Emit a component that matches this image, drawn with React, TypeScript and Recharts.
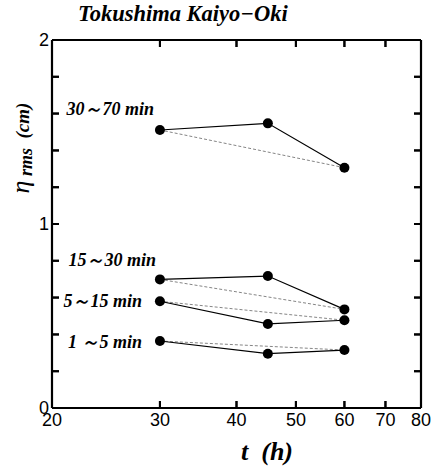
import { ComposedChart, Line, Scatter, XAxis, YAxis, LabelList, ReferenceLine } from 'recharts';

// observation times (h)
const times = [30, 45, 60];

// rms amplitude (cm) per period band
const band30to70 = [1.511, 1.547, 1.306];
const band15to30 = [0.699, 0.717, 0.536];
const band5to15 = [0.58, 0.457, 0.477];
const band1to5 = [0.364, 0.295, 0.315];

const bandNames = ['30～70 min', '15～30 min', '5～15 min', '1 ～5 min'];

const xTicks = [20, 30, 40, 50, 60, 70, 80];
const yTicks = [0, 0.2, 0.4, 0.6, 0.8, 1, 1.2, 1.4, 1.6, 1.8, 2];
const xInner = [30, 40, 50, 60, 70];
const yInner = [0.2, 0.4, 0.6, 0.8, 1, 1.2, 1.4, 1.6, 1.8];

// label placement relative to the first point of each band
const labelOffsets = [
  { dx: -6, dy: -15 },
  { dx: -4, dy: -13 },
  { dx: -18, dy: 6 },
  { dx: -18, dy: 7 },
];

const bands = [band30to70, band15to30, band5to15, band1to5];
const series = bands.map((vals) => times.map((t, i) => ({ t, v: vals[i] })));

// inward tick marks on the frame, placed through the axis scales
const tickMarks = [
  ...xInner.map((t) => ({ t, v: 0, dir: 'up' })),
  ...xInner.map((t) => ({ t, v: 2, dir: 'down' })),
  ...yInner.map((v) => ({ t: 20, v, dir: 'right' })),
  ...yInner.map((v) => ({ t: 80, v, dir: 'left' })),
];

const SERIF = '"Liberation Serif", "Times New Roman", serif';
const SANS = '"Liberation Sans", Arial, sans-serif';

const W = 433;
const H = 466;
const margin = { top: 39, right: 11, bottom: 57, left: 51 };
const plotW = W - margin.left - margin.right - 2;
const plotH = H - margin.top - margin.bottom - 2;
const TL = 7; // inward tick length

const BottomTick = (props: any) => {
  const { x, y, payload } = props;
  return (
    <text x={x} y={y + 18} textAnchor="middle" fontFamily={SANS} fontSize={18} fill="#000">
      {payload.value}
    </text>
  );
};

const LeftTick = (props: any) => {
  const { x, y, payload } = props;
  const v = payload.value;
  if (Math.abs(v - Math.round(v)) > 1e-6) return null;
  return (
    <text x={x - 3} y={y + 6} textAnchor="end" fontFamily={SANS} fontSize={18} fill="#000">
      {Math.round(v)}
    </text>
  );
};

const NoTick = () => null;

const TickMark = (props: any) => {
  const { cx, cy, payload } = props;
  if (cx == null || cy == null) return null;
  const dx = payload.dir === 'right' ? TL : payload.dir === 'left' ? -TL : 0;
  const dy = payload.dir === 'up' ? -TL : payload.dir === 'down' ? TL : 0;
  return <path d={`M${cx},${cy}L${cx + dx},${cy + dy}`} stroke="#000" strokeWidth={2} fill="none" />;
};

const makeBandLabel = (k: number) => (props: any) => {
  const { x, y, index } = props;
  if (index !== 0) return null;
  const off = labelOffsets[k];
  return (
    <text
      x={x + off.dx}
      y={y + off.dy}
      textAnchor="end"
      fontFamily={SERIF}
      fontStyle="italic"
      fontWeight="bold"
      fontSize={18}
      fill="#000"
    >
      {bandNames[k]}
    </text>
  );
};

const axisLine = { stroke: '#000', strokeWidth: 2.2 };

export default function App() {
  return (
    <div style={{ position: 'absolute', left: 0, top: 0, width: W, height: H, background: '#fff' }}>
      <ComposedChart width={W} height={H} margin={margin}>
        <XAxis
          xAxisId="bottom"
          dataKey="t"
          type="number"
          scale="log"
          domain={[20, 80]}
          ticks={xTicks}
          allowDataOverflow
          height={1}
          tickSize={0}
          tickMargin={0}
          tickLine={false}
          tick={<BottomTick />}
          axisLine={axisLine}
          interval={0}
        />
        <XAxis
          xAxisId="top"
          orientation="top"
          dataKey="t"
          type="number"
          scale="log"
          domain={[20, 80]}
          ticks={xTicks}
          allowDataOverflow
          height={1}
          tickSize={0}
          tickLine={false}
          tick={<NoTick />}
          axisLine={axisLine}
          interval={0}
        />
        <YAxis
          yAxisId="left"
          dataKey="v"
          type="number"
          domain={[0, 2]}
          ticks={yTicks}
          allowDataOverflow
          width={1}
          tickSize={0}
          tickMargin={0}
          tickLine={false}
          tick={<LeftTick />}
          axisLine={axisLine}
          interval={0}
        />
        <YAxis
          yAxisId="right"
          orientation="right"
          type="number"
          domain={[0, 2]}
          ticks={yTicks}
          allowDataOverflow
          width={1}
          tickSize={0}
          tickLine={false}
          tick={<NoTick />}
          axisLine={axisLine}
          interval={0}
        />
        {yInner.map((v) => (
          <ReferenceLine
            key={`ty-${v}`}
            xAxisId="bottom"
            yAxisId="left"
            y={v}
            stroke="#000"
            strokeWidth={2}
            strokeDasharray={`${TL} ${plotW - 2 * TL} ${TL}`}
          />
        ))}
        {xInner.map((v) => (
          <ReferenceLine
            key={`tx-${v}`}
            xAxisId="bottom"
            yAxisId="left"
            x={v}
            stroke="#000"
            strokeWidth={2}
            strokeDasharray={`${TL} ${plotH - 2 * TL} ${TL}`}
          />
        ))}
        {series.map((d, k) => (
          <Line
            key={`dash-${k}`}
            xAxisId="bottom"
            yAxisId="left"
            data={[d[0], d[d.length - 1]]}
            dataKey="v"
            stroke="#666"
            strokeWidth={0.8}
            strokeDasharray="3 2"
            dot={false}
            activeDot={false}
            isAnimationActive={false}
          />
        ))}
        {series.map((d, k) => (
          <Line
            key={`band-${k}`}
            xAxisId="bottom"
            yAxisId="left"
            data={d}
            dataKey="v"
            stroke="#000"
            strokeWidth={1.2}
            dot={{ r: 5, fill: '#000', stroke: '#000', strokeWidth: 0 }}
            activeDot={false}
            isAnimationActive={false}
          >
            <LabelList dataKey="v" content={makeBandLabel(k)} />
          </Line>
        ))}
        <Scatter
          xAxisId="bottom"
          yAxisId="left"
          data={tickMarks}
          dataKey="v"
          shape={<TickMark />}
          isAnimationActive={false}
        />
        <text x={78} y={21} fontFamily={SERIF} fontStyle="italic" fontWeight="bold" fontSize={22.5} fill="#000">
          Tokushima Kaiyo−Oki
        </text>
        <text x={267} y={460} textAnchor="middle" fontFamily={SERIF} fontStyle="italic" fontWeight="bold" fontSize={26} fill="#000">
          t{'\u00a0\u00a0'}(h)
        </text>
        <text
          x={0}
          y={0}
          transform="translate(29,148) rotate(-90)"
          textAnchor="middle"
          fontFamily={SERIF}
          fontStyle="italic"
          fill="#000"
        >
          <tspan fontSize={26}>η</tspan>
          <tspan fontSize={18} fontWeight="bold" dy={3}> rms</tspan>
          <tspan fontSize={19} fontWeight="bold" dy={-3}>{'\u00a0\u00a0'}(cm)</tspan>
        </text>
      </ComposedChart>
    </div>
  );
}
